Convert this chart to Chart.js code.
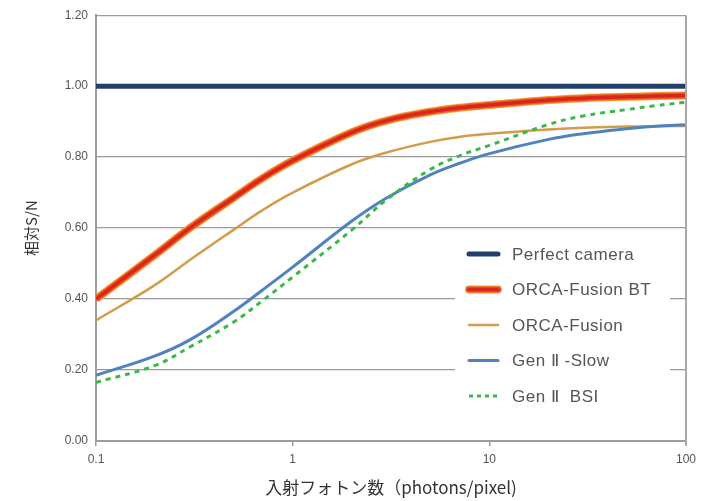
<!DOCTYPE html>
<html>
<head>
<meta charset="utf-8">
<script src="https://cdn.jsdelivr.net/npm/chart.js@4.4.1/dist/chart.umd.min.js"></script>
<style>
  html, body { margin: 0; padding: 0; background: #fff; }
</style>
</head>
<body>
<canvas id="snChart" width="722" height="501"></canvas>
<script>
/* ---------- DATA ---------- */
const photons       = [0.1, 0.2, 0.3, 0.5, 0.7, 1, 2, 3, 5, 7, 10, 20, 30, 50, 70, 100];
const perfectCamera = [1, 1, 1, 1, 1, 1, 1, 1, 1, 1, 1, 1, 1, 1, 1, 1];
const orcaFusionBT  = [0.40, 0.525, 0.60, 0.685, 0.74, 0.79, 0.87, 0.903, 0.928, 0.939, 0.947, 0.961, 0.966, 0.970, 0.972, 0.974];
const orcaFusion    = [0.34, 0.44, 0.51, 0.595, 0.65, 0.70, 0.78, 0.813, 0.843, 0.857, 0.866, 0.878, 0.883, 0.886, 0.887, 0.888];
const genIISlow     = [0.185, 0.24, 0.285, 0.365, 0.425, 0.49, 0.62, 0.685, 0.75, 0.782, 0.81, 0.85, 0.866, 0.88, 0.887, 0.891];
const genIIBSI      = [0.165, 0.213, 0.265, 0.335, 0.395, 0.462, 0.595, 0.68, 0.765, 0.803, 0.833, 0.892, 0.916, 0.934, 0.945, 0.955];

const seriesNames = ["Perfect camera", "ORCA-Fusion BT", "ORCA-Fusion", "Gen \u2161 -Slow", "Gen \u2161  BSI"];
const xTicks = [0.1, 1, 10, 100];
const xTickLabels = ["0.1", "1", "10", "100"];
const yTicks = [0, 0.2, 0.4, 0.6, 0.8, 1.0, 1.2];
const yTickLabels = ["0.00", "0.20", "0.40", "0.60", "0.80", "1.00", "1.20"];

/* ---------- STYLES ---------- */
const GRID = "#9c9c9c";
const NAVY = "#223f6b";
const BT_OUTER = "#f39b35";
const BT_MID = "#ec5a20";
const BT_INNER = "#d8261c";
const FUSION = "#d39b4c";
const SLOW = "#4f82bf";
const BSI = "#3cb84a";

const pts = arr => photons.map((x, i) => ({ x: x, y: arr[i] }));

const line = (label, data, color, width, order, extra) => Object.assign({
    label: label,
    data: pts(data),
    borderColor: color,
    borderWidth: width,
    pointRadius: 0,
    fill: false,
    tension: 0.4,
    borderCapStyle: "butt",
    order: order
}, extra || {});

/* ---------- LEGEND + FRAME (drawn by hand) ---------- */
const legendStyles = [
    [{ c: NAVY, w: 5 }],
    [{ c: BT_OUTER, w: 8 }, { c: BT_MID, w: 6 }, { c: BT_INNER, w: 3.5 }],
    [{ c: FUSION, w: 2.5 }],
    [{ c: SLOW, w: 3 }],
    [{ c: BSI, w: 3, dash: [4, 4] }]
];

const framePlugin = {
    id: "frame",
    afterDatasetsDraw(chart) {
        const ctx = chart.ctx;
        const a = chart.chartArea;
        ctx.save();
        // right border
        ctx.strokeStyle = "#a8a8a8";
        ctx.lineWidth = 2;
        ctx.beginPath();
        ctx.moveTo(a.right, a.top);
        ctx.lineTo(a.right, a.bottom + 4);
        ctx.stroke();

        // legend box
        ctx.fillStyle = "#fff";
        ctx.fillRect(455, 232, 215, 182);
        const rows = [254, 289.5, 325, 360.5, 396];
        ctx.font = "17px 'Liberation Sans', Arial, sans-serif";
        ctx.textBaseline = "middle";
        ctx.textAlign = "left";
        if ("letterSpacing" in ctx) ctx.letterSpacing = "0.5px";
        seriesNames.forEach((name, i) => {
            const y = rows[i];
            legendStyles[i].forEach(s => {
                ctx.beginPath();
                ctx.strokeStyle = s.c;
                ctx.lineWidth = s.w;
                ctx.lineCap = s.dash ? "butt" : "round";
                ctx.setLineDash(s.dash || []);
                ctx.moveTo(469, y);
                ctx.lineTo(498, y);
                ctx.stroke();
            });
            ctx.setLineDash([]);
            ctx.fillStyle = "#555";
            ctx.fillText(name, 512, y + 1);
        });
        ctx.restore();
    }
};

/* ---------- CHART ---------- */
new Chart(document.getElementById("snChart"), {
    type: "line",
    data: {
        datasets: [
            line(seriesNames[0], perfectCamera, NAVY, 5, 0),
            line(seriesNames[1], orcaFusionBT, BT_INNER, 3.5, 1),
            line(seriesNames[1], orcaFusionBT, BT_MID, 6, 2),
            line(seriesNames[1], orcaFusionBT, BT_OUTER, 8, 3),
            line(seriesNames[4], genIIBSI, BSI, 3, 4, { borderDash: [5, 5] }),
            line(seriesNames[3], genIISlow, SLOW, 3, 5),
            line(seriesNames[2], orcaFusion, FUSION, 2.5, 6)
        ]
    },
    options: {
        responsive: false,
        animation: false,
        layout: { padding: { top: 14, right: 36, left: 0, bottom: 0 } },
        plugins: {
            legend: { display: false },
            tooltip: { enabled: false }
        },
        scales: {
            x: {
                type: "logarithmic",
                min: 0.1,
                max: 100,
                afterBuildTicks: scale => { scale.ticks = xTicks.map(v => ({ value: v })); },
                afterFit: scale => { scale.height = 60; },
                ticks: {
                    autoSkip: false,
                    maxRotation: 0,
                    padding: 6,
                    color: "#555",
                    font: { family: "'Liberation Sans', Arial, sans-serif", size: 12 },
                    callback: (v, i) => xTickLabels[i]
                },
                grid: { drawOnChartArea: false, drawTicks: true, tickLength: 5, color: GRID, lineWidth: 1.5 },
                border: { display: true, color: GRID, width: 2 },
                title: {
                    display: true,
                    text: "入射フォトン数（photons/pixel)",
                    color: "#333",
                    font: { family: "'Noto Sans CJK JP', sans-serif", size: 17 },
                    padding: { top: 0, bottom: 3 }
                }
            },
            y: {
                min: 0,
                max: 1.2,
                afterBuildTicks: scale => { scale.ticks = yTicks.map(v => ({ value: v })); },
                afterFit: scale => { scale.width = 96; },
                ticks: {
                    padding: 8,
                    color: "#555",
                    font: { family: "'Liberation Sans', Arial, sans-serif", size: 12 },
                    callback: (v, i) => yTickLabels[i]
                },
                grid: { drawTicks: false, color: GRID, lineWidth: 1.3 },
                border: { display: true, color: GRID, width: 2 },
                title: {
                    display: true,
                    text: "相対S/N",
                    color: "#333",
                    font: { family: "'Noto Sans CJK JP', sans-serif", size: 15 },
                    padding: { top: 22, bottom: 0 }
                }
            }
        }
    },
    plugins: [framePlugin]
});
</script>
</body>
</html>
